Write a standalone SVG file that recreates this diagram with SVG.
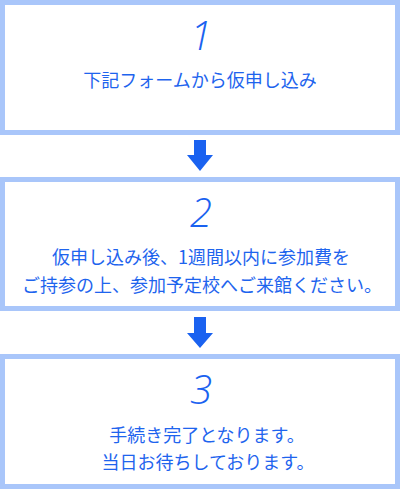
<svg xmlns="http://www.w3.org/2000/svg" width="400" height="489" viewBox="0 0 400 489">
<style>
.box{fill:#ffffff;stroke:#a9c6fa;stroke-width:5}
.num{font-family:"Open Sans","Noto Sans",sans-serif;font-style:italic;font-weight:300;font-size:40px;fill:#1a62f0;text-anchor:middle}
.txt{font-family:"Noto Sans CJK JP","Noto Sans",sans-serif;font-size:18px;fill:#1e64ee;text-anchor:middle}
.arrow{fill:#1a62f0}
</style>
<rect width="400" height="489" fill="#ffffff"/>
<g id="step1">
<rect class="box" x="2.5" y="2.5" width="395" height="130"/>
<text class="num" x="201" y="50">1</text>
<text class="txt" x="200" y="86.5">下記フォームから仮申し込み</text>
</g>
<g id="step2">
<rect class="box" x="2.5" y="179.5" width="395" height="129"/>
<text class="num" x="201" y="227">2</text>
<text class="txt" x="201" y="264">仮申し込み後、1週間以内に参加費を</text>
<text class="txt" x="202" y="292">ご持参の上、参加予定校へご来館ください。</text>
</g>
<g id="step3">
<rect class="box" x="2.5" y="356.5" width="395" height="130"/>
<text class="num" x="201" y="404">3</text>
<text class="txt" x="207" y="442">手続き完了となります。</text>
<text class="txt" x="208" y="469">当日お待ちしております。</text>
</g>
<g id="connectors">
<path class="arrow" d="M194,140 H206 V155 H213 L200,171 L187,155 H194 Z"/>
<path class="arrow" d="M194,317 H206 V333 H213 L200,348 L187,333 H194 Z"/>
</g>
</svg>
